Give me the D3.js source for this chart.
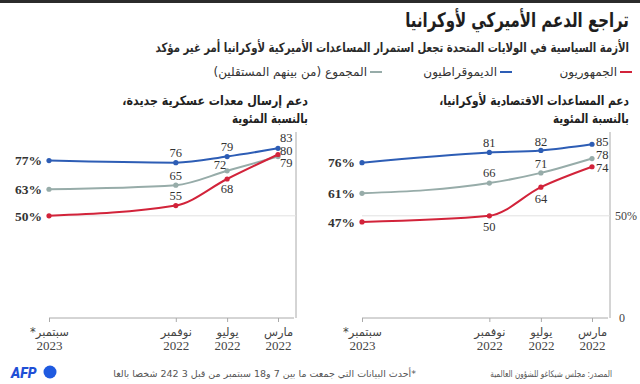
<!DOCTYPE html>
<html>
<head>
<meta charset="utf-8" />
<title>US support for Ukraine</title>
<script src="https://cdn.jsdelivr.net/npm/d3@7"></script>
<style>
html, body {
	margin:0;
	padding:0;
	background:#ffffff;
}
svg {
	display:block;
}
.ar {
	font-family: 'DejaVu Sans', sans-serif;
	direction: rtl;
	unicode-bidi: embed;
}
.num {
	font-family: 'Liberation Serif', 'DejaVu Serif', serif;
}
</style>
</head>
<body>

<script>

//=======================================
// data
//=======================================

let dates = [new Date(2023,8,1), new Date(2022,10,1), new Date(2022,6,1), new Date(2022,2,1)];
let dateLabels = [['سبتمبر*','2023'], ['نوفمبر','2022'], ['يوليو','2022'], ['مارس','2022']];

// economic aid
let ecoRep = [47, 50, 64, 74],
		ecoDem = [76, 81, 82, 85],
		ecoAll = [61, 66, 71, 78];

// new military equipment
let milRep = [50, 55, 68, 80],
		milDem = [77, 76, 79, 83],
		milAll = [63, 65, 72, 79];

let seriesNames = ['الجمهوريون', 'الديموقراطيون', 'المجموع (من بينهم المستقلين)'];
let colors = { rep:'#d2233a', dem:'#2d5db5', all:'#97aca9' };


//=======================================
// svg
//=======================================

let W = 640, H = 384;

let svg = d3.select('body').append('svg')
	.attr('width', W)
	.attr('height', H);

svg.append('rect')
	.attr('width', W).attr('height', 3)
	.attr('fill','#2b2b2b');

// squeeze an rtl text horizontally so it spans `w` px, right edge at x
function fit(sel, x, y, w)	{
	let len = sel.node().getComputedTextLength(),
			k = Math.min(1, w/len);
	sel.attr('x',0).attr('y',0)
		.attr('transform','translate('+[x,y]+') scale('+k+',1)');
}

// titles
svg.append('text').attr('class','ar')
	.attr('text-anchor','start')
	.attr('font-size', 20).attr('font-weight','bold')
	.attr('fill','#1e1e1e')
	.text('تراجع الدعم الأميركي لأوكرانيا')
	.call(fit, 629, 27, 224);

svg.append('text').attr('class','ar')
	.attr('text-anchor','start')
	.attr('font-size', 13).attr('font-weight','bold')
	.attr('fill','#2a2a2a')
	.text('الأزمة السياسية في الولايات المتحدة تجعل استمرار المساعدات الأميركية لأوكرانيا أمر غير مؤكد')
	.call(fit, 629, 52, 474);


//=======================================
// legend
//=======================================

let legendKeys = ['rep','dem','all'],
		legendX = [632, 512, 382];

svg.append('g').attr('class','legend')
	.selectAll('g').data(legendKeys)
		.enter()
			.append('g')
				.attr('transform',(d,i)=>'translate('+[legendX[i], 76]+')')
				.call(sel=>{
					sel.append('line')
						.attr('x1',-12).attr('x2',0)
						.attr('y1',-4).attr('y2',-4)
						.attr('stroke',d=>colors[d])
						.attr('stroke-width',2);
					sel.append('text').attr('class','ar')
						.attr('x',-15)
						.attr('text-anchor','start')
						.attr('font-size',12)
						.attr('fill','#333')
						.text((d,i)=>seriesNames[i]);
				});


//=======================================
// panels
//=======================================

let y = d3.scaleLinear().domain([0,91]).range([318,132]);

panel(svg.append('g'), {
	title: ['دعم المساعدات الاقتصادية لأوكرانيا،','بالنسبة المئوية'],
	titleLen: [190, 76],
	titleX: 629,
	range: [362, 592],
	axisX: 610,
	yLabels: true,
	series: { rep:ecoRep, dem:ecoDem, all:ecoAll },
	place: {
		dem: [null, [0,-10,'middle'], [0,-9,'middle'], [4,-3,'start']],
		all: [null, [0,-10,'middle'], [0,-9,'middle'], [4,-4,'start']],
		rep: [null, [0,11,'middle'], [0,11,'middle'], [4,1,'start']],
	}
});

panel(svg.append('g'), {
	title: ['دعم إرسال معدات عسكرية جديدة،','بالنسبة المئوية'],
	titleLen: [186, 76],
	titleX: 308,
	range: [49, 278],
	axisX: 296,
	yLabels: false,
	series: { rep:milRep, dem:milDem, all:milAll },
	place: {
		dem: [null, [0,-10,'middle'], [0,-10,'middle'], [2,-11,'start']],
		all: [null, [0,-10,'middle'], [-7,-6,'middle'], [2,6,'start']],
		rep: [null, [0,-10,'middle'], [0,10,'middle'], [2,-4,'start']],
	}
});


//====================================================================================
// footer
//====================================================================================

svg.append('text').attr('class','ar')
	.attr('text-anchor','start')
	.attr('font-size', 9)
	.attr('fill','#555')
	.text('المصدر: مجلس شيكاغو للشؤون العالمية')
	.call(fit, 612, 377, 122);

svg.append('text').attr('class','ar')
	.attr('text-anchor','start')
	.attr('font-size', 9.5)
	.attr('fill','#555')
	.text('*أحدث البيانات التي جمعت ما بين 7 و18 سبتمبر من قبل 3 242 شخصا بالغا')
	.call(fit, 416, 377, 318);

// AFP logo
svg.append('g').attr('class','logo')
	.call(sel=>{
		sel.append('text')
			.attr('x', 11).attr('y', 378)
			.attr('font-family','Roboto, "DejaVu Sans", sans-serif')
			.attr('font-size', 14).attr('font-weight', 900).attr('font-style','italic')
			.attr('fill','#1f4fd6')
			.text('AFP');
		sel.append('circle')
			.attr('cx', 50).attr('cy', 372).attr('r', 6.5)
			.attr('fill','#1f5ae0');
	});


//====================================================================================
//
//====================================================================================

function panel(sel, cfg)	{

	let x = d3.scaleTime().domain([dates[0], dates[3]]).range(cfg.range),
			x0 = cfg.range[0],
			line = d3.line()
				.x(d=>x(d.date))
				.y(d=>y(d.v))
				.curve(d3.curveMonotoneX);

	// title
	sel.selectAll('text.title').data(cfg.title)
		.enter()
			.append('text')
				.attr('class','title ar')
				.attr('text-anchor','start')
				.attr('font-size',13).attr('font-weight','bold')
				.attr('fill','#222')
				.text(d=>d)
				.each(function(d,i){
					d3.select(this).call(fit, cfg.titleX, 105 + i*18, cfg.titleLen[i]);
				});

	//=====================
	// axis
	//=====================

	sel.append('line')
		.attr('x1', cfg.axisX).attr('x2', cfg.axisX)
		.attr('y1', y(0)).attr('y2', y.range()[1])
		.attr('stroke','#aaa');

	sel.append('line')
		.attr('x1', x0).attr('x2', cfg.axisX)
		.attr('y1', y(50)).attr('y2', y(50))
		.attr('stroke','#e2e2e2');

	if (cfg.yLabels)	{
		sel.append('g')
			.attr('class','num')
			.attr('font-size', 12)
			.attr('fill','#444')
			.selectAll('text').data([0,50])
				.enter()
					.append('text')
						.attr('x', d=>cfg.axisX + (d ? 5 : 9))
						.attr('y', d=>y(d) + 4)
						.text(d=>d ? d+'%' : d);
	}

	sel.append('g')
		.attr('class','x-axis')
		.attr('transform','translate('+[0, y(0)]+')')
		.call(d3.axisBottom(x).tickValues(dates).tickSize(4).tickFormat(''))
		.call(g=>{
			g.select('.domain')
				.attr('d', 'M'+x0+',0H'+(cfg.axisX - 2))
				.attr('stroke','#aaa');
			g.selectAll('.tick line').attr('stroke','#aaa');
			g.selectAll('.tick').append('text')
				.attr('class','ar')
				.attr('text-anchor','middle')
				.attr('fill','#444')
				.attr('font-size',11.5)
				.selectAll('tspan').data((d,i)=>dateLabels[i])
					.enter()
						.append('tspan')
							.attr('class',(d,i)=>i ? 'num' : 'ar')
							.attr('font-size',(d,i)=>i ? 13 : 11.5)
							.attr('x', 0)
							.attr('y', (d,i)=>18 + i*14)
							.text(d=>d);
		});

	//=====================
	// lines
	//=====================

	['all','dem','rep'].forEach(k=>{

		let data = cfg.series[k].map((v,i)=>({date:dates[i], v:v, i:i}));

		sel.append('g').attr('class', k)
			.call(sel=>{

				sel.append('path')
					.attr('d', line(data))
					.attr('fill','none')
					.attr('stroke', colors[k])
					.attr('stroke-width', 2);

				sel.selectAll('circle').data(data)
					.enter()
						.append('circle')
							.attr('cx', d=>x(d.date))
							.attr('cy', d=>y(d.v))
							.attr('r', 2.6)
							.attr('fill', colors[k]);

				// first value, as percent
				sel.append('text')
					.attr('class','num')
					.attr('x', x(data[0].date) - 7)
					.attr('y', y(data[0].v))
					.attr('dy','0.35em')
					.attr('text-anchor','end')
					.attr('font-size', 13.5).attr('font-weight','bold')
					.attr('fill','#333')
					.text(data[0].v + '%');

				sel.selectAll('text.val').data(data.slice(1))
					.enter()
						.append('text')
							.attr('class','val num')
							.attr('x', d=>x(d.date) + cfg.place[k][d.i][0])
							.attr('y', d=>y(d.v) + cfg.place[k][d.i][1])
							.attr('dy','0.35em')
							.attr('text-anchor', d=>cfg.place[k][d.i][2])
							.attr('font-size', 12.5)
							.attr('fill','#333')
							.text(d=>d.v);
			});
	});

}

</script>

</body>
</html>
